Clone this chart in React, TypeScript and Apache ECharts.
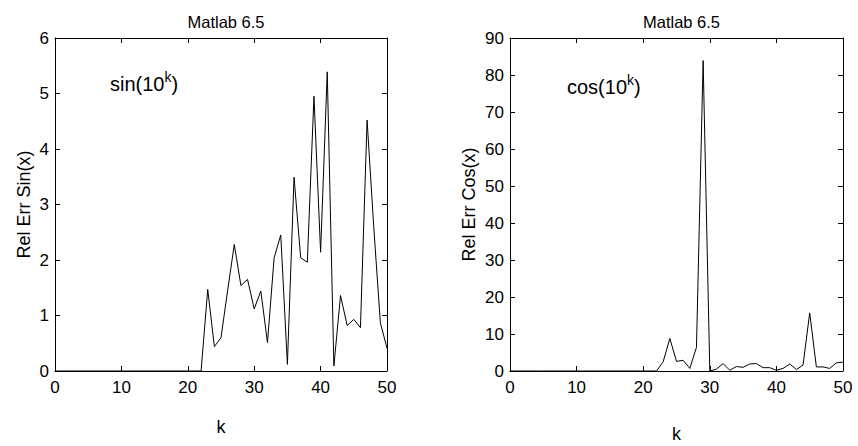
import React, { useEffect, useRef } from "react";
import * as echarts from "echarts";

const kValues = [
  0, 1, 2, 3, 4, 5, 6, 7, 8, 9, 10, 11, 12, 13, 14, 15, 16, 17, 18, 19, 20,
  21, 22, 23, 24, 25, 26, 27, 28, 29, 30, 31, 32, 33, 34, 35, 36, 37, 38, 39,
  40, 41, 42, 43, 44, 45, 46, 47, 48, 49, 50,
];

const sinErr = [
  0, 0, 0, 0, 0, 0, 0, 0, 0, 0, 0, 0, 0, 0, 0, 0, 0, 0, 0, 0, 0, 0, 0,
  1.47, 0.44, 0.6, 1.45, 2.28, 1.54, 1.65, 1.12, 1.44, 0.51, 2.04, 2.45, 0.12,
  3.49, 2.04, 1.96, 4.95, 2.14, 5.39, 0.09, 1.36, 0.82, 0.93, 0.78, 4.52, 2.6,
  0.87, 0.41,
];

const cosErr = [
  0, 0, 0, 0, 0, 0, 0, 0, 0, 0, 0, 0, 0, 0, 0, 0, 0, 0, 0, 0, 0, 0, 0,
  2.5, 8.8, 2.6, 2.9, 0.7, 6.4, 83.9, 0, 0.5, 2.0, 0.2, 1.2, 1.0, 1.9, 2.0,
  0.9, 0.9, 0.2, 0.7, 1.9, 0.4, 1.6, 15.7, 1.1, 1.1, 0.7, 2.2, 2.4,
];

const titles = ["Matlab 6.5", "Matlab 6.5"];
const yNames = ["Rel Err Sin(x)", "Rel Err Cos(x)"];
const xName = "k";
const notes = [
  ["sin(10", "k", ")"],
  ["cos(10", "k", ")"],
];

const FONT = "Liberation Sans, Arial, Helvetica, sans-serif";

export default function App() {
  const ref = useRef<HTMLDivElement>(null);
  useEffect(() => {
    if (!ref.current) return;
    const chart = echarts.init(ref.current, undefined, { renderer: "svg" });
    const tickStyle = { show: true, inside: true, length: 5, lineStyle: { color: "#000", width: 1 } };
    const lineStyle = { show: true, onZero: false, lineStyle: { color: "#000", width: 1 } };
    const label = { color: "#000", fontSize: 17, fontFamily: FONT };
    const grids = [
      { left: 55, top: 38, width: 332, height: 333, outerBoundsMode: "none", containLabel: false },
      { left: 510, top: 38, width: 333, height: 333, outerBoundsMode: "none", containLabel: false },
    ];
    const yMax = [6, 90];
    const yInt = [1, 10];
    const nameGaps = [47, 54];
    const yGaps = [22, 32];
    const xAxis: any[] = [];
    const yAxis: any[] = [];
    [0, 1].forEach((i) => {
      xAxis.push({
        type: "value", gridIndex: i, min: 0, max: 50, interval: 10, position: "bottom",
        axisLine: lineStyle, axisTick: tickStyle, splitLine: { show: false },
        axisLabel: { ...label, margin: 8 },
        name: xName, nameLocation: "middle", nameGap: nameGaps[i],
        nameTextStyle: { color: "#000", fontSize: 18, fontFamily: FONT },
      });
      xAxis.push({
        type: "value", gridIndex: i, min: 0, max: 50, interval: 10, position: "top",
        axisLine: lineStyle, axisTick: tickStyle, splitLine: { show: false },
        axisLabel: { show: false },
      });
      yAxis.push({
        type: "value", gridIndex: i, min: 0, max: yMax[i], interval: yInt[i], position: "left",
        axisLine: lineStyle, axisTick: tickStyle, splitLine: { show: false },
        axisLabel: { ...label, margin: 6 },
        name: yNames[i], nameLocation: "middle", nameGap: yGaps[i],
        nameTextStyle: { color: "#000", fontSize: 18, fontFamily: FONT },
      });
      yAxis.push({
        type: "value", gridIndex: i, min: 0, max: yMax[i], interval: yInt[i], position: "right",
        axisLine: lineStyle, axisTick: tickStyle, splitLine: { show: false },
        axisLabel: { show: false },
      });
    });
    const datas = [sinErr, cosErr];
    const series = [0, 1].map((i) => ({
      type: "line",
      xAxisIndex: i * 2,
      yAxisIndex: i * 2,
      data: kValues.map((k, j) => [k, datas[i][j]]),
      showSymbol: false,
      symbol: "none",
      lineStyle: { color: "#000", width: 1 },
      silent: true,
    }));
    const noteX = [110, 567];
    const noteY = [82, 85];
    chart.setOption({
      animation: false,
      backgroundColor: "#fff",
      title: titles.map((t, i) => ({
        text: t,
        left: grids[i].left + grids[i].width / 2,
        top: 8,
        textAlign: "center",
        textStyle: { color: "#000", fontSize: 16.5, fontWeight: "normal", fontFamily: FONT },
      })),
      grid: grids,
      xAxis,
      yAxis,
      series,
      graphic: notes.map((n, i) => ({
        type: "text",
        x: noteX[i],
        y: noteY[i],
        style: {
          text: `{a|${n[0]}}{b|${n[1]}}{a|${n[2]}}`,
          verticalAlign: "middle",
          rich: {
            a: { fontSize: 20, fontFamily: FONT, fill: "#000", lineHeight: 24, verticalAlign: "bottom" },
            b: { fontSize: 14, fontFamily: FONT, fill: "#000", lineHeight: 12, verticalAlign: "top" },
          },
        },
      })),
    });
    return () => chart.dispose();
  }, []);
  return (
    <div
      ref={ref}
      style={{ position: "absolute", left: 0, top: 0, width: 858, height: 446 }}
    />
  );
}
